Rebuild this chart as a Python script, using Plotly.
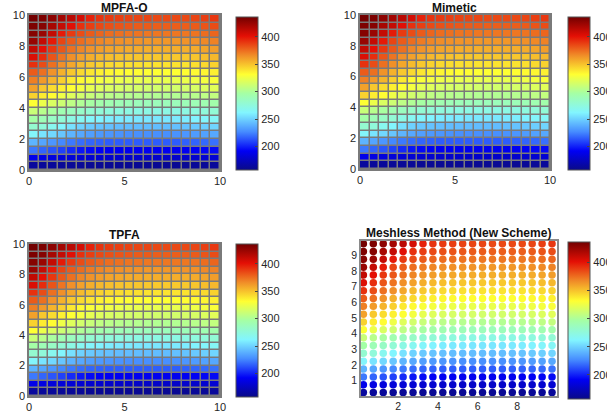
import plotly.graph_objects as go

# cell centres (x and y) of the 20 x 20 grid
x_centers = [0.25, 0.75, 1.25, 1.75, 2.25, 2.75, 3.25, 3.75, 4.25, 4.75,
             5.25, 5.75, 6.25, 6.75, 7.25, 7.75, 8.25, 8.75, 9.25, 9.75]
y_centers = [0.25, 0.75, 1.25, 1.75, 2.25, 2.75, 3.25, 3.75, 4.25, 4.75,
             5.25, 5.75, 6.25, 6.75, 7.25, 7.75, 8.25, 8.75, 9.25, 9.75]

# pressure field, rows from bottom (y=0.25) to top (y=9.75), columns left to right
pressure = [
    [164, 163, 163, 162, 162, 162, 161, 161, 161, 161, 161, 161, 161, 161, 161, 161, 161, 162, 162, 163],
    [188, 186, 184, 183, 182, 181, 180, 180, 179, 179, 178, 178, 178, 178, 178, 178, 179, 179, 180, 181],
    [222, 217, 213, 208, 202, 197, 194, 192, 191, 191, 190, 190, 190, 190, 190, 190, 191, 192, 193, 194],
    [240, 235, 230, 226, 222, 219, 217, 216, 215, 215, 215, 215, 215, 215, 215, 215, 216, 217, 218, 220],
    [263, 256, 252, 246, 240, 236, 233, 231, 230, 229, 228, 228, 228, 228, 228, 229, 230, 232, 234, 236],
    [280, 276, 268, 262, 255, 250, 247, 245, 244, 243, 243, 243, 243, 243, 243, 244, 245, 247, 249, 251],
    [296, 290, 284, 278, 272, 267, 263, 261, 259, 258, 258, 257, 257, 257, 257, 258, 259, 261, 263, 265],
    [310, 304, 298, 292, 287, 283, 279, 277, 275, 274, 273, 272, 272, 272, 272, 272, 273, 274, 276, 278],
    [331, 324, 317, 312, 306, 301, 297, 294, 292, 290, 289, 288, 288, 288, 288, 288, 289, 290, 292, 294],
    [345, 337, 332, 325, 319, 314, 310, 307, 305, 304, 303, 303, 302, 302, 302, 302, 303, 304, 306, 308],
    [360, 348, 342, 336, 331, 327, 322, 319, 317, 316, 315, 315, 314, 314, 314, 314, 315, 316, 318, 320],
    [370, 362, 354, 346, 338, 333, 329, 327, 325, 324, 323, 323, 323, 323, 323, 323, 324, 325, 327, 329],
    [380, 374, 364, 355, 348, 343, 339, 336, 334, 333, 332, 332, 331, 331, 331, 331, 332, 333, 334, 336],
    [392, 384, 374, 365, 358, 352, 348, 345, 343, 342, 341, 341, 340, 340, 340, 340, 340, 341, 343, 345],
    [404, 393, 382, 373, 365, 360, 356, 353, 351, 350, 349, 349, 348, 348, 348, 348, 348, 349, 351, 353],
    [412, 401, 390, 381, 374, 368, 364, 361, 359, 358, 357, 357, 356, 356, 356, 356, 356, 357, 359, 361],
    [425, 411, 398, 386, 380, 375, 371, 368, 366, 365, 364, 364, 363, 363, 363, 363, 364, 365, 367, 369],
    [430, 424, 411, 398, 389, 384, 380, 377, 375, 374, 373, 373, 372, 372, 372, 372, 372, 373, 375, 377],
    [433, 430, 420, 411, 402, 392, 388, 385, 383, 382, 381, 380, 380, 379, 379, 379, 379, 380, 382, 384],
    [436, 433, 428, 421, 414, 406, 396, 391, 389, 388, 387, 386, 386, 385, 385, 385, 385, 386, 388, 390],
]

panel_titles = ["MPFA-O", "Mimetic", "TPFA", "Meshless Method (New Scheme)"]
cbar_ticks = [200, 250, 300, 350, 400]
c_min, c_max = 157, 436

W, H = 607, 414
# lightened jet colormap as seen in the reference
jet = [[0.0, "rgb(10,10,135)"], [0.125, "rgb(0,0,245)"], [0.25, "rgb(70,140,255)"],
       [0.375, "rgb(130,245,255)"], [0.5, "rgb(165,255,165)"], [0.625, "rgb(255,255,50)"],
       [0.75, "rgb(240,140,40)"], [0.875, "rgb(228,15,5)"], [1.0, "rgb(115,0,0)"]]
GRID = "#7a7a7a"
FONT = "Liberation Sans, Arial, sans-serif"


def px_x(a, b):
    return [a / W, b / W]


def px_y(top, bottom):
    return [1 - bottom / H, 1 - top / H]


# plot area pixel boxes: (left, right, top, bottom)
boxes = [(29, 220, 15, 170), (360, 550, 15, 169), (29, 220, 244, 396), (361, 557, 241, 396)]
cbar_x = [236, 568, 236, 568]
cbar_y = [(17, 170), (17, 170), (244, 397), (242, 399)]
title_y = [8, 8, 235, 233]
tick_size = [11, 11, 11, 10.5]

fig = go.Figure()

for k in range(4):
    l, r, t, b = boxes[k]
    ct, cb = cbar_y[k]
    cbar = dict(
        x=cbar_x[k] / W, xanchor="left", xref="paper",
        y=1 - (ct + cb) / 2 / H, yanchor="middle", len=(cb - ct) / H, lenmode="fraction",
        thickness=22, thicknessmode="pixels",
        outlinecolor="#555555", outlinewidth=1,
        tickvals=cbar_ticks, ticks="inside", ticklen=3, tickcolor="#444444",
        tickfont=dict(family=FONT, size=11, color="#262626"),
        xpad=0, ypad=0,
    )
    xa = "x" if k == 0 else f"x{k+1}"
    ya = "y" if k == 0 else f"y{k+1}"
    if k < 3:
        fig.add_trace(go.Heatmap(
            x=x_centers, y=y_centers, z=pressure,
            colorscale=jet, zmin=c_min, zmax=c_max,
            xgap=1.5, ygap=1.5, colorbar=cbar, showscale=True,
            xaxis=xa, yaxis=ya, hoverinfo="skip",
        ))
    else:
        xs, ys, cs = [], [], []
        for j, yv in enumerate(y_centers):
            for i, xv in enumerate(x_centers):
                xs.append(xv)
                ys.append(yv)
                cs.append(pressure[j][i])
        fig.add_trace(go.Scatter(
            x=xs, y=ys, mode="markers",
            marker=dict(size=7.5, color=cs, colorscale=jet, cmin=c_min, cmax=c_max,
                        showscale=True, colorbar=cbar, line=dict(width=0)),
            xaxis=xa, yaxis=ya, hoverinfo="skip", showlegend=False,
        ))

    axkey_x = "xaxis" if k == 0 else f"xaxis{k+1}"
    axkey_y = "yaxis" if k == 0 else f"yaxis{k+1}"
    if k < 3:
        xr, yr = [0, 10], [0, 10]
        xt, yt = [0, 5, 10], [0, 2, 4, 6, 8, 10]
        line_col = GRID
    else:
        xr, yr = [0.13, 10.0], [0.03, 9.92]
        xt, yt = [2, 4, 6, 8], [1, 2, 3, 4, 5, 6, 7, 8, 9]
        line_col = "#8a8a8a"
    fig.layout[axkey_x] = dict(
        domain=px_x(l, r), range=xr, tickvals=xt, anchor=ya,
        showgrid=False, zeroline=False, showline=True, linecolor=line_col, linewidth=1.5,
        mirror=True, ticks="", tickfont=dict(family=FONT, size=tick_size[k], color="#262626"),
    )
    fig.layout[axkey_y] = dict(
        domain=px_y(t, b), range=yr, tickvals=yt, anchor=xa,
        showgrid=False, zeroline=False, showline=True, linecolor=line_col, linewidth=1.5,
        mirror=True, ticks="", tickfont=dict(family=FONT, size=tick_size[k], color="#262626"),
    )
    fig.add_annotation(
        text=f"<b>{panel_titles[k]}</b>", xref="paper", yref="paper",
        x=(l + r) / 2 / W, y=1 - title_y[k] / H, xanchor="center", yanchor="middle",
        showarrow=False, font=dict(family=FONT, size=12, color="#111111"),
    )

# grey background shows through the cell gaps as grid lines (first three panels)
for k in range(3):
    l, r, t, b = boxes[k]
    fig.add_shape(type="rect", xref="paper", yref="paper", layer="below",
                  x0=l / W, x1=r / W, y0=1 - b / H, y1=1 - t / H,
                  fillcolor=GRID, line=dict(width=0))

fig.update_layout(
    width=W, height=H, margin=dict(l=0, r=0, t=0, b=0, autoexpand=False),
    paper_bgcolor="white", plot_bgcolor="rgba(0,0,0,0)",
    showlegend=False, font=dict(family=FONT),
)

fig.write_html("out.html")
